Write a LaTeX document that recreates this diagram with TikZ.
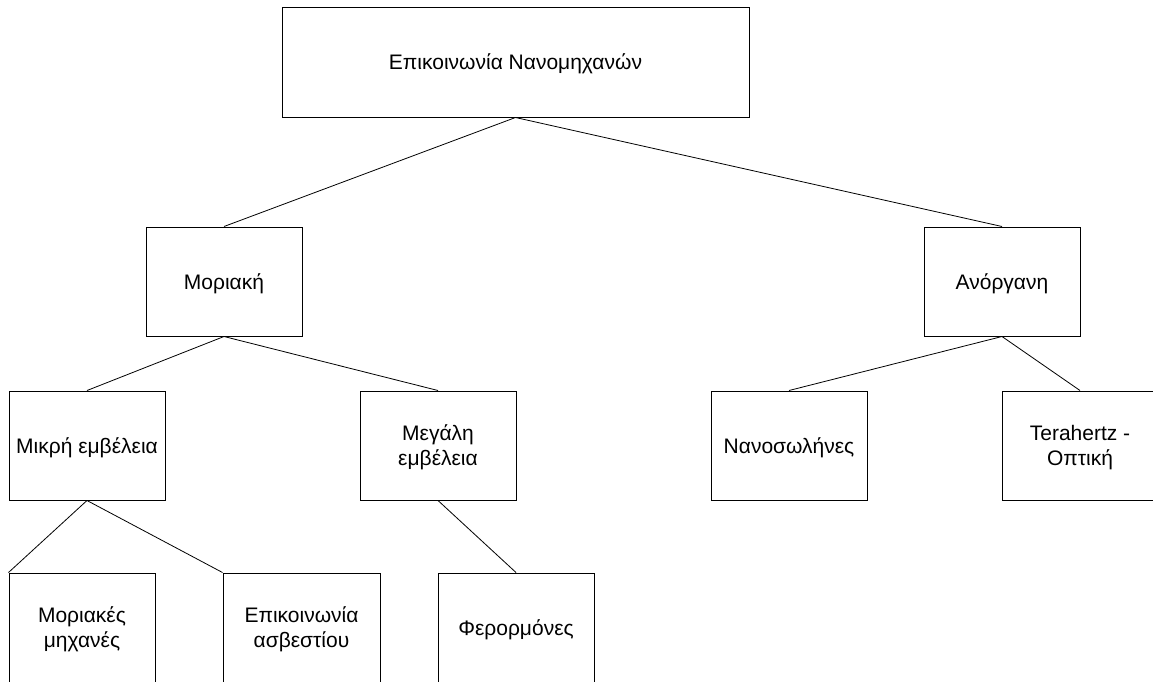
\documentclass[tikz,border=0pt]{standalone}
\usepackage{fontspec}
\setmainfont{Liberation Sans}
\begin{document}
\begin{tikzpicture}[x=1pt,y=-1pt,
  box/.style={draw=black,line width=1pt,rectangle,inner sep=0pt,minimum width=156pt,minimum height=109pt,align=center,text depth=0pt,font=\fontsize{21}{25}\selectfont},
  link/.style={draw=black,line width=0.8pt}]
\useasboundingbox (0,0) rectangle (1153,681);
\clip (0,0) rectangle (1153,681);
\fill[white] (0,0) rectangle (1153,681);
\node[box,minimum width=467pt,minimum height=110pt] (top) at (515.5,62) {Επικοινωνία Νανομηχανών};
\node[box] (mor) at (224,281.5) {Μοριακή};
\node[box] (ano) at (1002,281.5) {Ανόργανη};
\node[box] (mikri) at (87,445.5) {Μικρή εμβέλεια};
\node[box] (megali) at (438,445.5) {Μεγάλη\\εμβέλεια};
\node[box] (nano) at (789,445.5) {Νανοσωλήνες};
\node[box] (tera) at (1080,445.5) {Terahertz -\\Οπτική};
\node[box,minimum width=146pt] (morm) at (82,627.5) {Μοριακές\\μηχανές};
\node[box,minimum width=157pt] (epik) at (301.5,627.5) {Επικοινωνία\\ασβεστίου};
\node[box] (fer) at (516,627.5) {Φερορμόνες};
\draw[link] (top.south) -- (mor.north);
\draw[link] (top.south) -- (ano.north);
\draw[link] (mor.south) -- (mikri.north);
\draw[link] (mor.south) -- (megali.north);
\draw[link] (ano.south) -- (nano.north);
\draw[link] (ano.south) -- (tera.north);
\draw[link] (mikri.south) -- (morm.north west);
\draw[link] (mikri.south) -- (epik.north west);
\draw[link] (megali.south) -- (fer.north);
\end{tikzpicture}
\end{document}
